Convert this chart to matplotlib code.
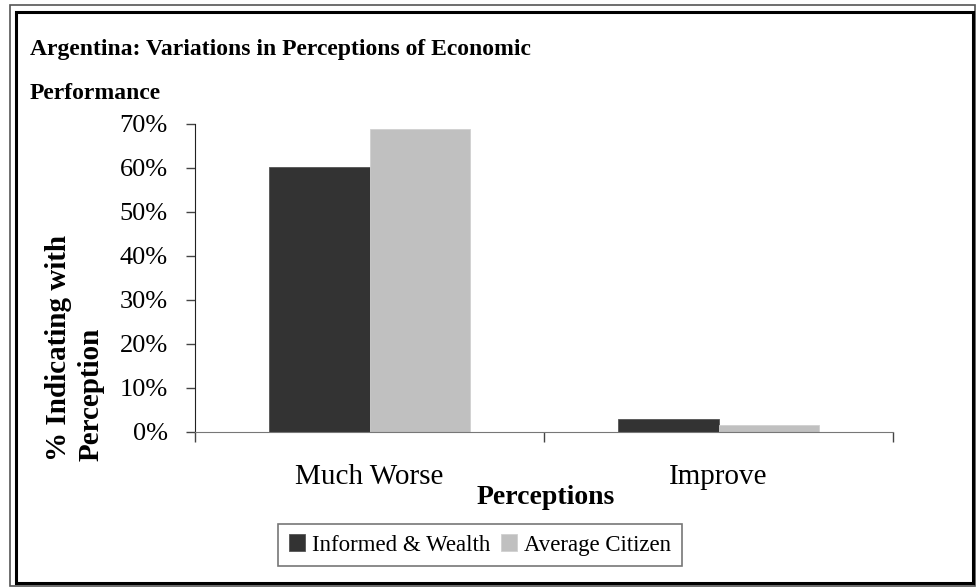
import numpy as np
import matplotlib
matplotlib.use('Agg')
import matplotlib.pyplot as plt
from matplotlib.patches import Rectangle

# Data
categories = ['Much Worse', 'Improve']
informed_wealth = [0.602, 0.030]
average_citizen = [0.689, 0.016]
series_names = ['Informed & Wealth', 'Average Citizen']
yticks = [0.0, 0.1, 0.2, 0.3, 0.4, 0.5, 0.6, 0.7]

plt.rcParams['font.family'] = ['Liberation Serif', 'DejaVu Serif']

fig = plt.figure(figsize=(9.76, 5.88), dpi=100)

# double frame around the chart area
fig.patches.append(Rectangle((10 / 976, 1 - 586 / 588), 965 / 976, 581 / 588,
                             transform=fig.transFigure, fill=False,
                             edgecolor='#555555', linewidth=1.2))
fig.patches.append(Rectangle((16 / 976, 1 - 583 / 588), 957 / 976, 571 / 588,
                             transform=fig.transFigure, fill=False,
                             edgecolor='black', linewidth=2.2))

ax = fig.add_axes([195 / 976, 1 - 432 / 588, (893 - 195) / 976, (432 - 124) / 588])

x = np.arange(len(categories))
w = 0.287
ax.bar(x - w / 2, informed_wealth, w, color='#333333', edgecolor='#555555',
       linewidth=0.6, label=series_names[0])
ax.bar(x + w / 2, average_citizen, w, color='#c0c0c0', edgecolor='#d0d0d0',
       linewidth=0.6, label=series_names[1])

ax.set_xlim(-0.5, 1.5)
ax.set_ylim(0, 0.7)
ax.set_yticks(yticks)
ax.set_yticklabels(['%d%%' % round(v * 100) for v in yticks], fontsize=19)
ax.tick_params(axis='y', length=6.5, width=1, color='#444444', pad=13)

ax.set_xticks(x)
ax.set_xticklabels(categories, fontsize=21)
ax.tick_params(axis='x', which='major', length=0, pad=23)
ax.set_xticks([-0.5, 0.5, 1.5], minor=True)
ax.tick_params(axis='x', which='minor', length=7, width=1, color='#444444')

ax.spines['top'].set_visible(False)
ax.spines['right'].set_visible(False)
ax.spines['left'].set_color('#222222')
ax.spines['bottom'].set_color('#777777')

# axis titles
fig.text(546 / 976, 1 - 497 / 588, 'Perceptions', fontsize=20,
         fontweight='bold', ha='center', va='center')
fig.text(58 / 976, 1 - 461 / 588, '% Indicating with', fontsize=21,
         fontweight='bold', rotation=90, ha='center', va='bottom')
fig.text(91 / 976, 1 - 461 / 588, 'Perception', fontsize=21,
         fontweight='bold', rotation=90, ha='center', va='bottom')

# chart title
fig.text(30 / 976, 1 - 55 / 588, 'Argentina: Variations in Perceptions of Economic',
         fontsize=17, fontweight='bold', ha='left', va='baseline')
fig.text(30 / 976, 1 - 99 / 588, 'Performance',
         fontsize=17, fontweight='bold', ha='left', va='baseline')

leg = fig.legend(loc='center', bbox_to_anchor=(480 / 976, 1 - 545 / 588),
                 ncol=2, fontsize=16.5, frameon=True, fancybox=False,
                 handlelength=0.7, handleheight=0.7, handletextpad=0.3,
                 columnspacing=0.5, borderpad=0.45, borderaxespad=0)
leg.get_frame().set_edgecolor('#555555')
leg.get_frame().set_linewidth(1.2)

fig.savefig('out.png', dpi=100)
